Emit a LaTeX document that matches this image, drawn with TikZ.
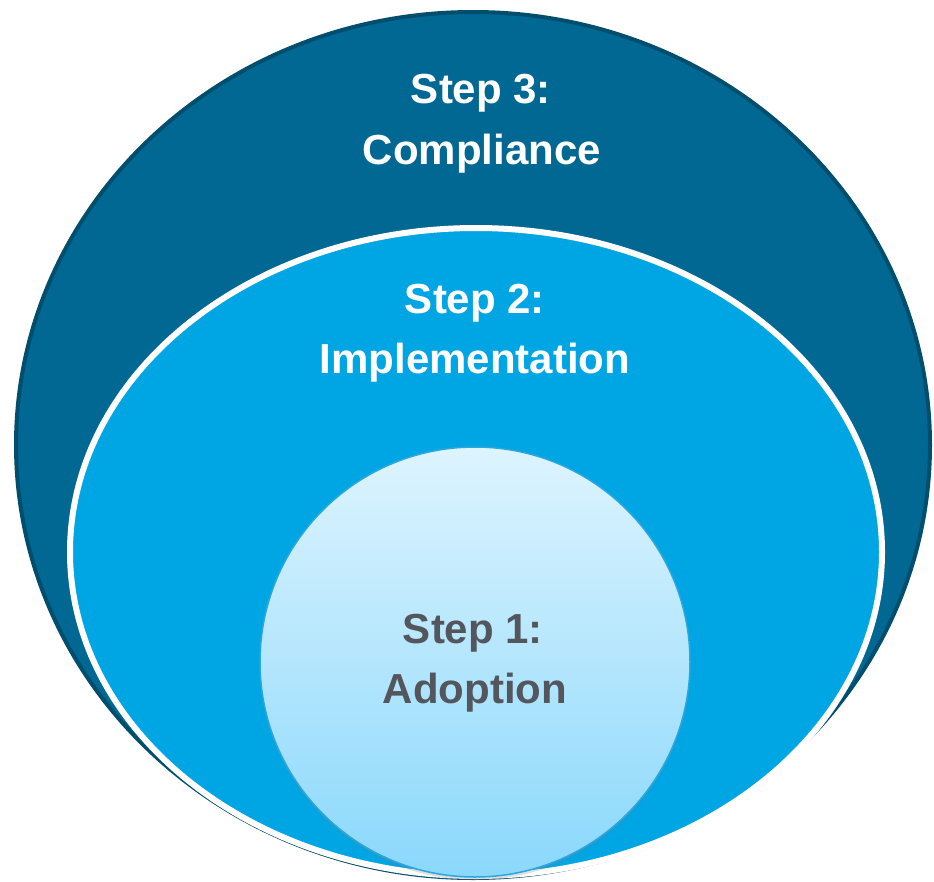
\documentclass[tikz,border=0pt]{standalone}
\usepackage{fontspec}
\setmainfont{Liberation Sans}
\usetikzlibrary{shadows}
\definecolor{outerfill}{HTML}{006892}
\definecolor{outeredge}{HTML}{004E6D}
\definecolor{midfill}{HTML}{00A5E3}
\definecolor{innertop}{HTML}{DDF4FE}
\definecolor{innerbot}{HTML}{8AD8FC}
\definecolor{inneredge}{HTML}{2BA7DE}
\definecolor{darktext}{HTML}{53575D}
\tikzset{
  lbl/.style={anchor=base, inner sep=0pt, font=\bfseries\fontsize{42}{50}\selectfont},
  whitelbl/.style={lbl, text=white},
  graylbl/.style={lbl, text=darktext},
  outerring/.style={fill=outerfill, draw=outeredge, line width=4pt},
  midring/.style={fill=midfill, draw=white, line width=6pt,
    drop shadow={opacity=0.3, shadow xshift=0pt, shadow yshift=-3pt}},
  innerdisc/.style={top color=innertop, bottom color=innerbot, draw=inneredge, line width=1.5pt,
    drop shadow={opacity=0.25, shadow xshift=0pt, shadow yshift=-3pt}}
}
\begin{document}
\begin{tikzpicture}[x=1pt,y=-1pt]
\useasboundingbox (0,0) rectangle (934,881);
\clip (0,0) rectangle (934,881);
\fill[white] (0,0) rectangle (934,881);
\path[outerring] (473,445) ellipse [x radius=457, y radius=433];
\path[midring] (476,552) ellipse [x radius=406, y radius=324];
\path[innerdisc] (475,662) circle [radius=215];
\node[whitelbl] (s3a) at (481,103) {Step 3:};
\node[whitelbl] (s3b) at (482,164) {Compliance};
\node[whitelbl] (s2a) at (475,313) {Step 2:};
\node[whitelbl] (s2b) at (475,373) {Implementation};
\node[graylbl] (s1a) at (473,643) {Step 1:};
\node[graylbl] (s1b) at (475,703) {Adoption};
\end{tikzpicture}
\end{document}
